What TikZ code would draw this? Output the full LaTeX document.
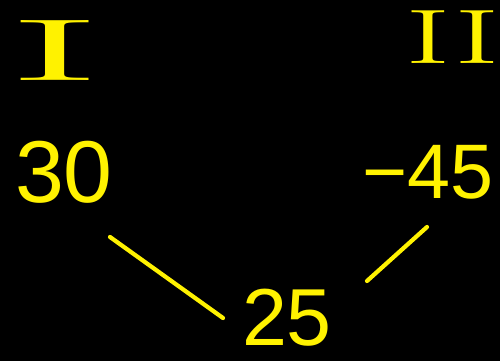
\documentclass[tikz,border=0pt]{standalone}
\usepackage{fontspec}
\setmainfont{Latin Modern Roman}
\newfontfamily\numfont{Liberation Sans}
\definecolor{hand}{RGB}{255,242,0}
\begin{document}
\begin{tikzpicture}[x=0.02cm,y=-0.02cm,
  numlabel/.style={text=hand,inner sep=0pt,font=\numfont\fontsize{50}{50}\selectfont},
  romanlabel/.style={text=hand,inner sep=0pt},
  stroke/.style={draw=hand,line width=2.4pt,line cap=round}]
\fill[black] (0,0) rectangle (500,361);
\useasboundingbox (0,0) rectangle (500,361);
\node[romanlabel,font=\fontsize{50}{50}\selectfont] (r1) at (55,51) {\scalebox{3.3}[1]{I}};
\node[romanlabel,font=\fontsize{44}{44}\selectfont] (r2) at (453,37) {\scalebox{1.8}[1]{II}};
\node[numlabel] (n30) at (64,172) {30};
\node[numlabel,font=\numfont\fontsize{44}{44}\selectfont] (n45) at (428,172) {−45};
\node[numlabel,font=\numfont\fontsize{46}{46}\selectfont] (n25) at (287,318) {25};
\coordinate (a1) at (110,237);
\coordinate (a2) at (223,318);
\coordinate (b1) at (427,227);
\coordinate (b2) at (367,281);
\draw[stroke] (a1) -- (a2);
\draw[stroke] (b1) -- (b2);
\end{tikzpicture}
\end{document}
